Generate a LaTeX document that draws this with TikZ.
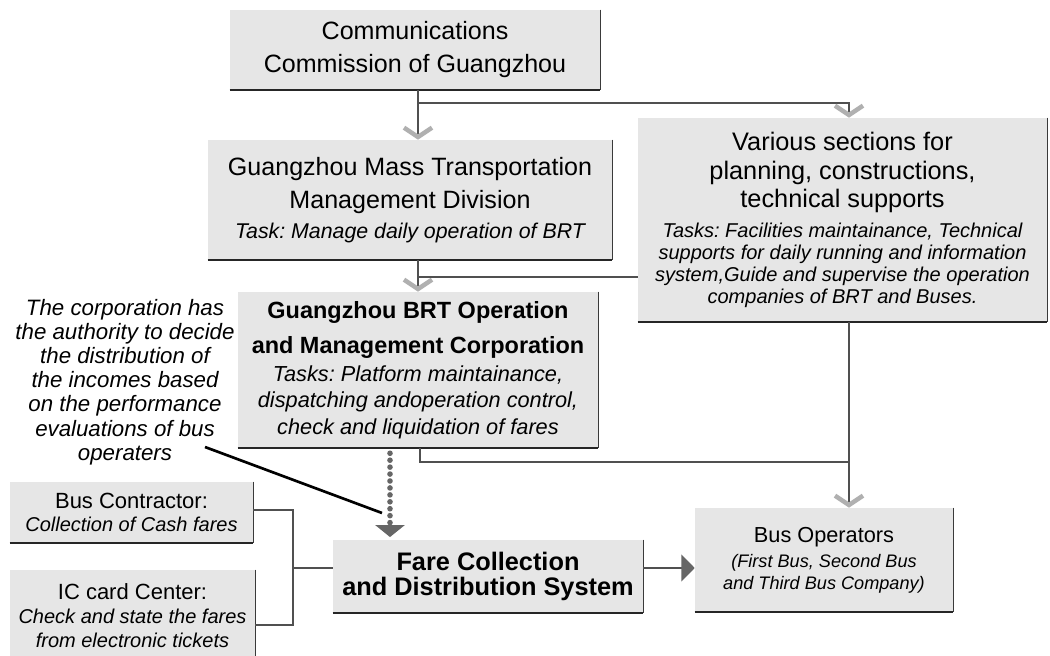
\documentclass[tikz,border=0pt]{standalone}
\usepackage{fontspec}
\setmainfont{Liberation Sans}
\usetikzlibrary{arrows.meta}
\definecolor{boxfill}{HTML}{E6E6E6}
\definecolor{linegray}{HTML}{505050}
\definecolor{chev}{HTML}{B0B0B0}
\definecolor{headgray}{HTML}{666666}
\definecolor{edgegray}{HTML}{3A3A3A}
\newcommand\fz[2]{\fontsize{#1}{#2}\selectfont}
\newcommand\itf{\itshape\fz{15}{16}}
\frenchspacing
\begin{document}
\frenchspacing
\begin{tikzpicture}[x=0.75pt,y=-0.75pt,
  box/.style={fill=boxfill, inner sep=0pt, align=center},
  conn/.style={draw=linegray, line width=1.4pt},
  chevarrow/.style={-{Straight Barb[length=7pt,width=21pt,line width=3.4pt,color=chev]}},
  beads/.style={draw=headgray, line width=4.2pt, line cap=round, dash pattern=on 0pt off 5.2pt},
  tri/.style={-{Triangle[length=9pt,width=22pt,color=headgray]}},
  tri2/.style={-{Triangle[length=10pt,width=20pt,color=headgray]}},
  edgeR/.style={draw=edgegray, line width=0.9pt},
  edgeB/.style={draw=black!85, line width=1.6pt},
  annline/.style={draw=black, line width=2pt}]
\useasboundingbox (0,0) rectangle (1050,656);

% boxes
\node[box, minimum width=277.5pt, minimum height=60pt, font=\fz{18.8}{24.75}] (b1) at (415,50)
  {Communications\\Commission of Guangzhou};
\node[box, minimum width=303pt, minimum height=90pt, font=\fz{18.8}{24.75}] (b2) at (410,200)
  {Guangzhou Mass Transportation\\Management Division\\[-2.5pt]\itshape\fz{16}{20}Task: Manage daily operation of BRT};
\node[box, minimum width=306.75pt, minimum height=153pt, font=\fz{19}{21.4}] (b3) at (842.5,220)
  {Various sections for\\planning, constructions,\\technical supports\\[1.1pt]%
   \itf Tasks: Facilities maintainance, Technical\\[-5pt]%
   \itf supports for daily running and information\\[-5pt]%
   \itf system,Guide and supervise the operation\\[-5pt]%
   \itf companies of BRT and Buses.};
\node[box, minimum width=270pt, minimum height=117pt, font=\bfseries\fz{17.6}{26.25}] (b4) at (418,370)
  {Guangzhou BRT Operation\\and Management Corporation\\[-5.25pt]%
   \mdseries\itshape\fz{16.3}{18}Tasks: Platform maintainance,\\[-6.35pt]%
   \mdseries\itshape\fz{16.3}{18}dispatching andoperation control,\\[-6.35pt]%
   \mdseries\itshape\fz{16.3}{18}check and liquidation of fares};
\node[box, minimum width=182.25pt, minimum height=45.75pt, font=\fz{16.5}{17.25}] (bc) at (131.5,512.5)
  {Bus Contractor:\\\itshape\fz{15}{16}Collection of Cash fares};
\node[box, minimum width=183.75pt, minimum height=69pt, font=\fz{16.5}{18}] (ic) at (132.5,616)
  {IC card Center:\\\itshape\fz{15}{16}Check and state the fares\\\itshape\fz{15}{16}from electronic tickets};
\node[box, minimum width=232.5pt, minimum height=54.75pt, font=\bfseries\fz{19}{18.75}] (fare) at (488,576.5)
  {Fare Collection\\and Distribution System};
\node[box, minimum width=193.5pt, minimum height=78pt, font=\fz{16.3}{18.75}] (bo) at (824,560)
  {Bus Operators\\\itshape\fz{13.6}{15}(First Bus, Second Bus\\[-2.25pt]\itshape\fz{13.6}{15}and Third Bus Company)};

\foreach \n in {b1,b2,b3,b4,bc,ic,fare,bo}{
  \draw[edgeR] (\n.north east) -- (\n.south east);
  \draw[edgeB] (\n.south west) -- (\n.south east);
}

% annotation
\node[font=\itshape\fz{16.7}{18.15}, align=center, inner sep=0pt] (ann) at (125,382)
  {The corporation has\\the authority to decide\\the distribution of\\the incomes based\\on the performance\\evaluations of bus\\operaters};

% connectors
\coordinate (j1) at (418,103);
\coordinate (k1) at (849,103);
\draw[conn, chevarrow] (b1.south -| j1) -- (b2.north -| j1);
\draw[conn, chevarrow] (j1) -- (k1) -- (b3.north -| k1);

\coordinate (j2) at (418,277);
\draw[conn, chevarrow] (b2.south -| j2) -- (b4.north -| j2);
\draw[conn] (b3.west |- j2) -- (j2);

\coordinate (j3) at (420,462);
\draw[conn] (b4.south -| j3) -- (j3) -- (j3 -| k1);
\draw[conn, chevarrow] (b3.south -| k1) -- (bo.north -| k1);

\coordinate (d1) at (390,500);
\draw[beads] (b4.south -| d1) ++(0,5) -- ([yshift=11pt]fare.north -| d1);
\draw[headgray, line width=1pt, tri] ([yshift=10pt]fare.north -| d1) -- ([yshift=2pt]fare.north -| d1);

\coordinate (a1) at (205,447);
\coordinate (a2) at (382,513);
\draw[annline] (a1) -- (a2);

\coordinate (br1) at (293,510);
\coordinate (br2) at (293,625);
\coordinate (br) at (293,568);
\draw[conn] (bc.east |- br1) -- (br1) -- (br2) -- (ic.east |- br2);
\draw[conn] (br) -- (fare.west |- br);
\draw[conn, tri2] (fare.east |- br) -- (bo.west |- br);
\end{tikzpicture}
\end{document}
